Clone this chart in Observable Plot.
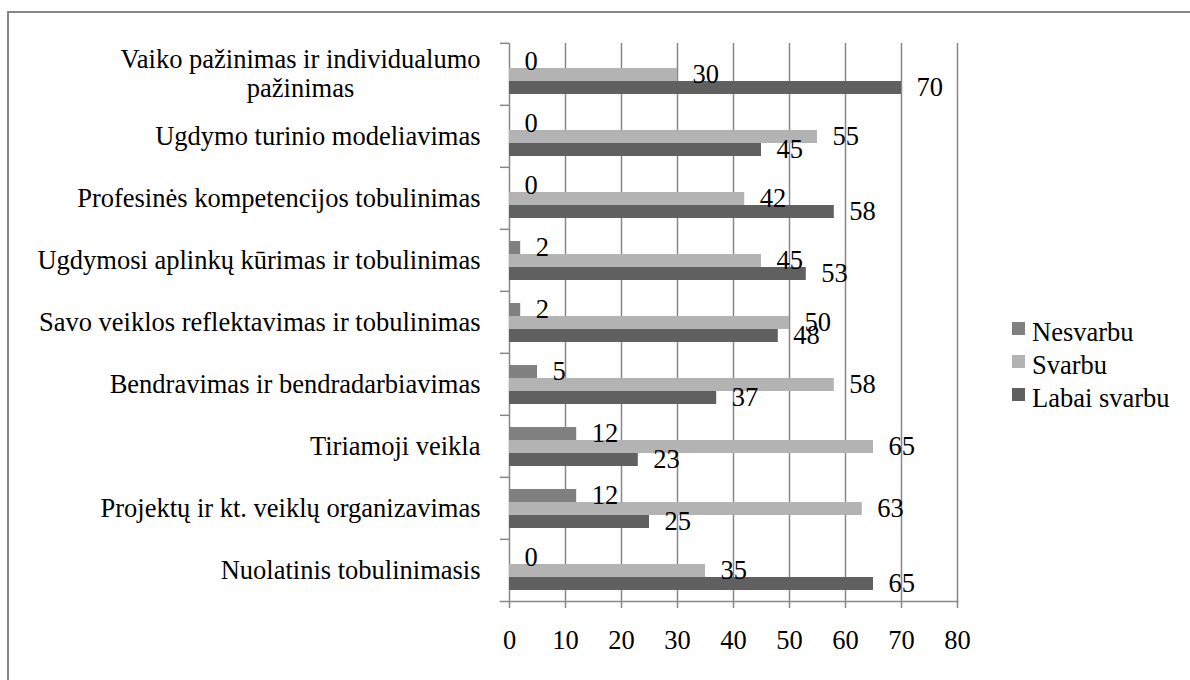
<!DOCTYPE html>
<html>
<head>
<meta charset="utf-8">
<script src="https://cdn.jsdelivr.net/npm/d3@7"></script>
<script src="https://cdn.jsdelivr.net/npm/@observablehq/plot@0.6"></script>
<style>
  html, body { margin: 0; padding: 0; background: #fff; overflow: hidden; width: 1190px; height: 680px; }
  #wrap { position: relative; width: 1190px; height: 680px; }
  #chart { position: absolute; left: 0; top: 0; }
  #border { position: absolute; left: 7px; top: 11px; width: 1300px; height: 800px; border: 2px solid #878787; box-sizing: border-box; pointer-events: none; z-index: 2; }
  #legend { position: absolute; left: 1012px; top: 0; font-family: "Liberation Serif", "Times New Roman", serif; font-size: 26.5px; color: #000; z-index: 3; }
  .item { position: absolute; left: 0; white-space: nowrap; }
  .sw { position: absolute; left: 0; width: 13px; height: 13px; }
  .lb { position: absolute; left: 20px; line-height: 1; }
</style>
</head>
<body>
<div id="wrap">
  <div id="chart"></div>
  <div id="border"></div>
  <div id="legend"></div>
</div>
<script>
const categories = [
  "Vaiko pažinimas ir individualumo pažinimas",
  "Ugdymo turinio modeliavimas",
  "Profesinės kompetencijos tobulinimas",
  "Ugdymosi aplinkų kūrimas ir tobulinimas",
  "Savo veiklos reflektavimas ir tobulinimas",
  "Bendravimas ir bendradarbiavimas",
  "Tiriamoji veikla",
  "Projektų ir kt. veiklų organizavimas",
  "Nuolatinis tobulinimasis"
];
const series = ["Nesvarbu", "Svarbu", "Labai svarbu"];
const nesvarbu = [0, 0, 0, 2, 2, 5, 12, 12, 0];
const svarbu = [30, 55, 42, 45, 50, 58, 65, 63, 35];
const labaiSvarbu = [70, 45, 58, 53, 48, 37, 23, 25, 65];
const colors = ["#808080", "#b3b3b3", "#606060"];
const xTicks = [0, 10, 20, 30, 40, 50, 60, 70, 80];

const seriesValues = [nesvarbu, svarbu, labaiSvarbu];
const rows = categories.flatMap((c, i) =>
  series.map((s, j) => ({category: c, series: s, value: seriesValues[j][i]}))
);

const W = 1190, H = 680, ML = 509, MR = 233, MT = 41, MB = 78;
const step = (H - MT - MB) / categories.length;
const FONT = "'Liberation Serif', 'Times New Roman', serif";
const FS = 26.5;
const gridColor = "#878787";

const firstLines = ["Vaiko pažinimas ir individualumo", "pažinimas"];
const ctx = document.createElement("canvas").getContext("2d");
ctx.font = FS + "px 'Liberation Serif'";
const firstW = ctx.measureText(firstLines[0]).width;

const chart = Plot.plot({
  width: W,
  height: H,
  marginLeft: ML,
  marginRight: MR,
  marginTop: MT,
  marginBottom: MB,
  style: {fontFamily: FONT, fontSize: FS + "px", color: "#000", background: "transparent"},
  x: {domain: [0, 80], label: null},
  fy: {domain: categories, padding: 0, label: null},
  y: {domain: series, paddingInner: 0, paddingOuter: 0.82, axis: null},
  color: {domain: series, range: colors},
  marks: [
    Plot.gridX(xTicks, {stroke: gridColor, strokeOpacity: 1, strokeWidth: 1.5}),
    Plot.barX(rows, {fy: "category", y: "series", x: "value", fill: "series"}),
    Plot.text(rows, {fy: "category", y: "series", x: "value", text: d => String(d.value),
      textAnchor: "start", dx: 15, dy: 0, fill: "#000"}),
    Plot.axisX({ticks: xTicks, tickSize: 7, tickPadding: 22, stroke: gridColor, strokeWidth: 1.5, label: null}),
    Plot.axisFy({anchor: "left", tickSize: 9, tickFormat: () => "", dy: -step / 2, stroke: gridColor, strokeWidth: 1.5, label: null}),
    Plot.axisFy({anchor: "left", ticks: categories.slice(1), tickSize: 0, tickPadding: 29, label: null}),
    Plot.axisFy({anchor: "left", ticks: [categories[0]], tickSize: 0, tickPadding: 29, label: null,
      tickFormat: () => firstLines.join("\n"), textAnchor: "middle", dx: -firstW / 2, dy: -1, lineHeight: 1.1}),
    Plot.frame({facet: "super", anchor: "bottom", insetLeft: -9, stroke: gridColor, strokeWidth: 1.5})
  ]
});
document.getElementById("chart").appendChild(chart);

// legend
const legend = document.getElementById("legend");
const legendBaselines = [340, 373, 406];
series.forEach((s, j) => {
  const item = document.createElement("div");
  item.className = "item";
  const sw = document.createElement("div");
  sw.className = "sw";
  sw.style.background = colors[j];
  sw.style.top = (legendBaselines[j] - 18) + "px";
  const lb = document.createElement("div");
  lb.className = "lb";
  lb.textContent = s;
  lb.style.top = (legendBaselines[j] - 21) + "px";
  item.appendChild(sw);
  item.appendChild(lb);
  legend.appendChild(item);
});
</script>
</body>
</html>
